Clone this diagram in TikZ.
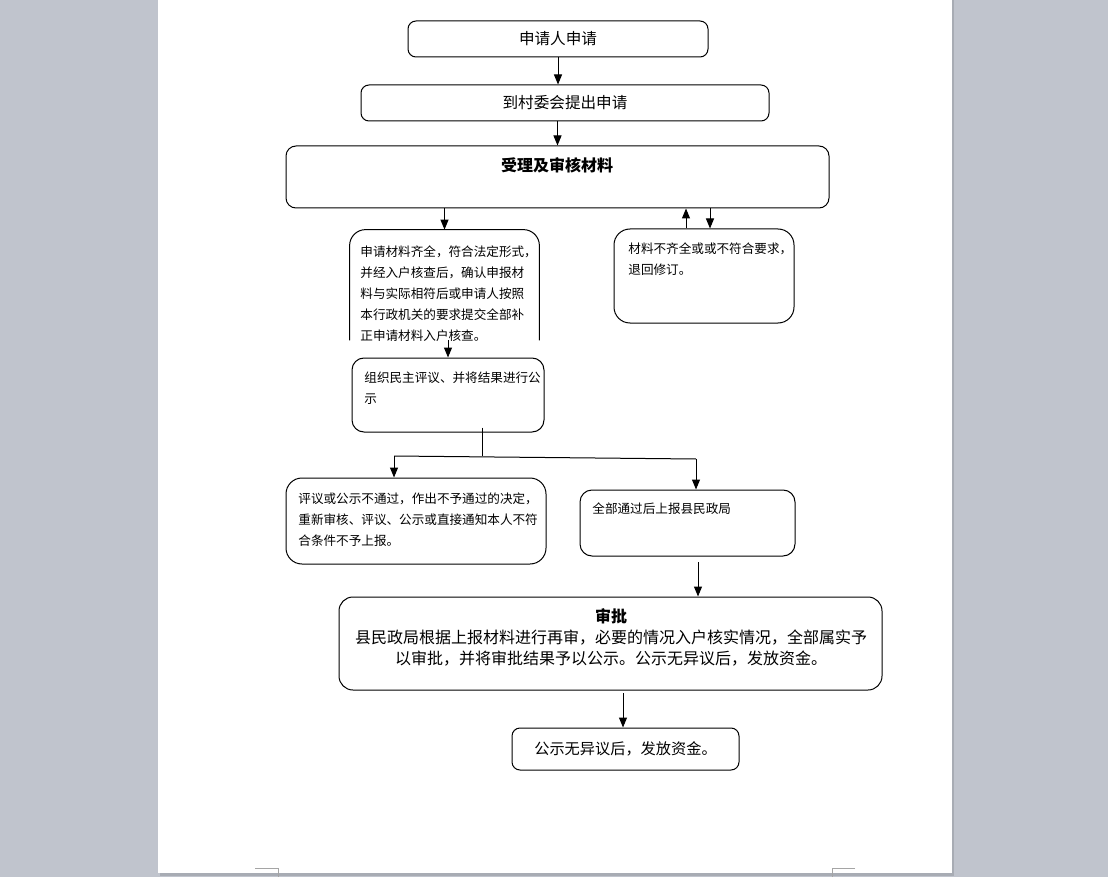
\documentclass[tikz,border=0pt]{standalone}
\usepackage{fontspec}
\setmainfont{Noto Sans CJK SC}
\usepackage{tikz}
\usetikzlibrary{arrows.meta}
\usetikzlibrary{calc}
\definecolor{deskgray}{RGB}{192,196,205}
\definecolor{edgegray}{RGB}{168,172,180}
\definecolor{markgray}{RGB}{165,165,165}

\begin{document}
\begin{tikzpicture}[x=0.5pt,y=-0.5pt,
	box/.style={draw, rounded corners=4pt, line width=0.5pt, inner sep=0pt},
	big/.style={font=\fontsize{7.8}{11}\selectfont},
	small/.style={anchor=north west, inner sep=0pt, align=left, font=\fontsize{6.3}{10.5}\selectfont},
	arr/.style={-{Triangle[width=4pt,length=5pt]}, line width=0.5pt}]
	
	\useasboundingbox (0,0) rectangle (1108,877);
	\fill[deskgray] (0,0) rectangle (1108,877);
	\fill[edgegray] (160,0) rectangle (954,876);
	\fill[white] (158,0) rectangle (952,873);
	\draw[markgray, line width=0.5pt] (255,868) -- (278,868) -- (278,877);
	\draw[markgray, line width=0.5pt] (855,868) -- (832,868) -- (832,877);
	
	\node[box, big, minimum width=150pt, minimum height=18pt] (apply) at (558,39) {申请人申请};
	\node[box, big, minimum width=204pt, minimum height=18pt] (village) at (565,103) {到村委会提出申请};
	\node[box, rounded corners=5pt, minimum width=271.5pt, minimum height=31pt] (accept) at (557.5,177) {};
	\node[big, font=\fontsize{8}{11}\selectfont\bfseries] (acceptT) at (557,165) {受理及审核材料};
	
	\node[minimum width=94.5pt, minimum height=55pt, inner sep=0pt] (full) at (444.5,285) {};
	\draw[line width=0.5pt, rounded corners=8pt] (full.south west) |- (full.north) -| (full.south east);
	\node[small] (fullT) at (360,245) {申请材料齐全，符合法定形式，\\并经入户核查后，确认申报材\\料与实际相符后或申请人按照\\本行政机关的要求提交全部补\\正申请材料入户核查。};
	
	\node[box, rounded corners=8pt, minimum width=90pt, minimum height=47pt] (back) at (704,276) {};
	\node[small] (backT) at (628,242) {材料不齐全或或不符合要求，\\退回修订。};
	
	\node[box, rounded corners=6pt, minimum width=96pt, minimum height=37pt] (review) at (448,395) {};
	\node[small] (reviewT) at (364,371) {组织民主评议、并将结果进行公\\示};
	
	\node[box, rounded corners=8pt, minimum width=130pt, minimum height=43pt] (fail) at (416,521) {};
	\node[small] (failT) at (298,492) {评议或公示不通过，作出不予通过的决定，\\重新审核、评议、公示或直接通知本人不符\\合条件不予上报。};
	
	\node[box, rounded corners=6pt, minimum width=107.5pt, minimum height=33pt] (pass) at (687.5,523) {};
	\node[small] (passT) at (592,502) {全部通过后上报县民政局};
	
	\node[box, rounded corners=7pt, minimum width=271.5pt, minimum height=46.5pt] (approve) at (610.5,643.5) {};
	\node[align=center, inner sep=0pt, font=\fontsize{8}{10.5}\selectfont] (approveT) at (611,637) {{\bfseries 审批}\\县民政局根据上报材料进行再审，必要的情况入户核实情况，全部属实予\\以审批，并将审批结果予以公示。公示无异议后，发放资金。};
	
	\node[box, minimum width=113.5pt, minimum height=21pt, font=\fontsize{7.6}{10}\selectfont] (fund) at (625.5,749) {公示无异议后，发放资金。};
	
	\draw[arr] (apply.south) -- (apply.south |- village.north);
	\draw[arr] (accept.north |- village.south) -- (accept.north);
	\draw[arr] (full.north |- accept.south) -- (full.north);
	\coordinate (up) at ($(back.north)+(-18,0)$);
	\coordinate (down) at ($(back.north)+(6,0)$);
	\draw[arr] (up) -- (up |- accept.south);
	\draw[arr] (down |- accept.south) -- (down);
	\draw[arr] (review.north |- full.south) -- (review.north);
	
	\coordinate (split) at ($(review.south)+(34,-5)$);
	\coordinate (joinL) at (394,456);
	\coordinate (joinM) at (482,456);
	\coordinate (joinR) at (696,459);
	\draw[line width=0.5pt] (split) -- (joinM);
	\draw[line width=0.5pt] (joinL) -- (joinR);
	\draw[arr] (joinL) -- (joinL |- fail.north);
	\draw[arr] (joinR) -- (joinR |- pass.north);
	
	\coordinate (passOut) at (698,562);
	\draw[arr] (passOut) -- (passOut |- approve.north);
	\coordinate (approveOut) at (623,693);
	\draw[arr] (approveOut) -- (approveOut |- fund.north);
\end{tikzpicture}
\end{document}
